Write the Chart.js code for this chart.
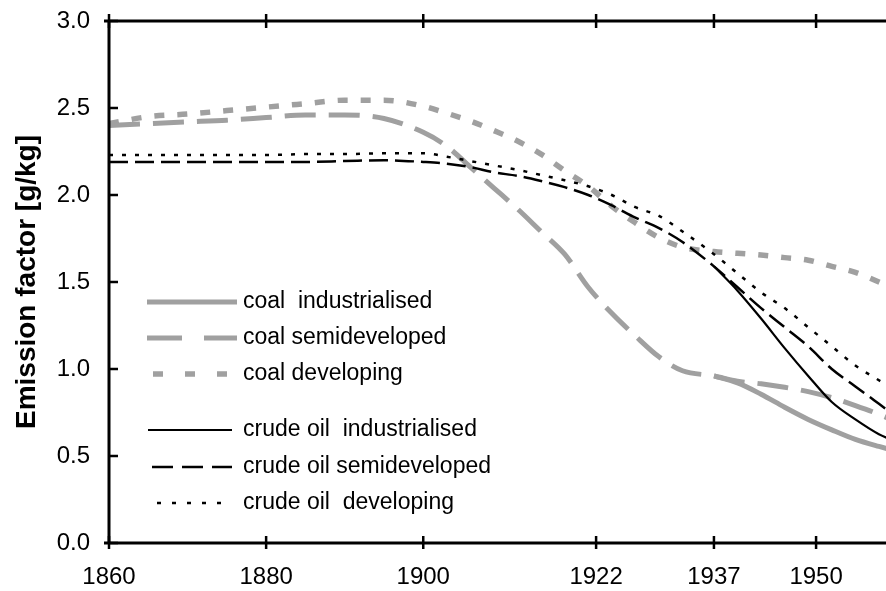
<!DOCTYPE html>
<html>
<head>
<meta charset="utf-8">
<script src="https://cdn.jsdelivr.net/npm/chart.js@4.4.1/dist/chart.umd.min.js"></script>
<style>
html,body{margin:0;padding:0;background:#ffffff;}
#c{display:block;}
</style>
</head>
<body>
<canvas id="c" width="886" height="591"></canvas>
<script>
// ---- data ----
const years = [1860,1865,1870,1875,1880,1885,1890,1895,1900,1903,1906,1909,1912,1915,1918,1921,1924,1927,1930,1933,1937,1940,1943,1946,1949,1952,1955,1958,1961];
const xTickYears = [1860,1880,1900,1922,1937,1950];
const yTickValues = [0,0.5,1,1.5,2,2.5,3];

const coalIndustrialised = [null,null,null,null,null,null,null,null,null,null,null,null,null,null,null,null,null,null,null,null,0.96,0.92,0.855,0.78,0.71,0.65,0.595,0.555,0.52];
const coalSemideveloped  = [2.40,2.41,2.42,2.43,2.445,2.46,2.46,2.44,2.36,2.28,2.16,2.04,1.92,1.79,1.66,1.47,1.32,1.19,1.07,0.99,0.96,0.93,0.915,0.895,0.87,0.835,0.79,0.74,0.68];
const coalDeveloping     = [2.41,2.45,2.465,2.485,2.505,2.525,2.545,2.545,2.51,2.47,2.425,2.37,2.31,2.235,2.14,2.05,1.935,1.84,1.755,1.70,1.675,1.665,1.655,1.64,1.625,1.59,1.555,1.50,1.44];
const oilIndustrialised  = [null,null,null,null,null,null,null,null,null,null,null,null,null,null,null,null,null,null,null,null,1.59,1.45,1.29,1.12,0.96,0.81,0.71,0.625,0.57];
const oilSemideveloped   = [2.19,2.19,2.19,2.19,2.19,2.19,2.195,2.20,2.19,2.18,2.16,2.13,2.11,2.08,2.045,2.00,1.94,1.87,1.81,1.73,1.59,1.47,1.35,1.24,1.13,1.00,0.90,0.80,0.70];
const oilDeveloping      = [2.23,2.23,2.23,2.23,2.23,2.235,2.235,2.24,2.24,2.22,2.195,2.17,2.145,2.115,2.085,2.05,2.00,1.93,1.88,1.79,1.66,1.55,1.44,1.35,1.24,1.13,1.02,0.935,0.85];

const seriesLabels = ['coal  industrialised','coal semideveloped','coal developing','crude oil  industrialised','crude oil semideveloped','crude oil  developing'];
const axisTitle = 'Emission factor [g/kg]';

// ---- styling ----
const GRAY = '#a0a0a0';
const FONT = "'Liberation Sans', Arial, sans-serif";
const toPts = arr => years.map((x,i) => ({x: x, y: arr[i]}));

const ds = (label, arr, color, width, dash, order) => ({
  label: label, data: toPts(arr), borderColor: color, backgroundColor: color,
  borderWidth: width, borderDash: dash, pointRadius: 0, pointHoverRadius: 0,
  cubicInterpolationMode: 'monotone', fill: false, spanGaps: false, order: order,
  borderCapStyle: 'butt'
});

const datasets = [
  ds(seriesLabels[0], coalIndustrialised, GRAY, 5, [], 2),
  ds(seriesLabels[1], coalSemideveloped, GRAY, 5, [31,13], 2),
  ds(seriesLabels[2], coalDeveloping, GRAY, 5.5, [10,13], 2),
  ds(seriesLabels[3], oilIndustrialised, '#000', 2.2, [], 1),
  ds(seriesLabels[4], oilSemideveloped, '#000', 2.5, [19,7], 1),
  ds(seriesLabels[5], oilDeveloping, '#000', 2.5, [4,9], 1)
];

// legend sample styles (layout only)
const legendLayout = {
  rowsY: [302, 338, 374, 430, 467, 503],
  samples: [
    {x0:147, x1:237, dash:[]},
    {x0:147, x1:237, dash:[35,22]},
    {x0:153, x1:230, dash:[10,22]},
    {x0:148, x1:232, dash:[]},
    {x0:152, x1:232, dash:[21,9]},
    {x0:157, x1:232, dash:[4,11]}
  ],
  textX: 243
};

const framePlugin = {
  id: 'frame',
  afterDatasetsDraw(chart) {
    const ctx = chart.ctx;
    const a = chart.chartArea;
    const xs = chart.scales.x, ys = chart.scales.y;
    ctx.save();
    ctx.strokeStyle = '#000';
    ctx.lineCap = 'butt';
    ctx.setLineDash([]);
    ctx.lineWidth = 3;
    ctx.beginPath();
    ctx.moveTo(a.left - 5, a.top); ctx.lineTo(a.right, a.top);
    ctx.moveTo(a.left - 5, a.bottom); ctx.lineTo(a.right, a.bottom);
    ctx.moveTo(a.left, a.top); ctx.lineTo(a.left, a.bottom);
    ctx.stroke();
    ctx.lineWidth = 2.5;
    ctx.beginPath();
    yTickValues.forEach(v => {
      const py = ys.getPixelForValue(v);
      ctx.moveTo(a.left, py); ctx.lineTo(a.left + 9, py);
    });
    xTickYears.forEach(v => {
      const px = xs.getPixelForValue(v);
      ctx.moveTo(px, a.bottom - 7); ctx.lineTo(px, a.bottom + 6);
      ctx.moveTo(px, a.top - 7); ctx.lineTo(px, a.top + 7);
    });
    ctx.stroke();

    // legend
    chart.data.datasets.forEach((d, i) => {
      const y = legendLayout.rowsY[i];
      const s = legendLayout.samples[i];
      ctx.strokeStyle = d.borderColor;
      ctx.lineWidth = d.borderWidth;
      ctx.setLineDash(s.dash);
      ctx.beginPath();
      ctx.moveTo(s.x0, y); ctx.lineTo(s.x1, y);
      ctx.stroke();
      ctx.setLineDash([]);
      ctx.fillStyle = '#000';
      ctx.font = '23px ' + FONT;
      ctx.textBaseline = 'middle';
      ctx.textAlign = 'left';
      ctx.fillText(d.label, legendLayout.textX, y);
    });
    ctx.restore();
  }
};

new Chart(document.getElementById('c'), {
  type: 'line',
  data: { datasets: datasets },
  plugins: [framePlugin],
  options: {
    responsive: false,
    animation: false,
    devicePixelRatio: 1,
    layout: { padding: { top: 21, right: 0, bottom: 0, left: 0 } },
    plugins: { legend: { display: false }, tooltip: { enabled: false } },
    scales: {
      x: {
        type: 'linear', min: 1860, max: 1958.9,
        afterBuildTicks: s => { s.ticks = xTickYears.map(v => ({value: v})); },
        afterFit: s => { s.height = 48; s.paddingLeft = 0; s.paddingRight = 0; },
        grid: { display: false, drawTicks: false },
        border: { display: false },
        ticks: {
          color: '#000', padding: 21,
          font: { family: FONT, size: 24, lineHeight: 1.1 },
          callback: v => String(v), maxRotation: 0, autoSkip: false
        }
      },
      y: {
        type: 'linear', min: 0, max: 3,
        afterBuildTicks: s => { s.ticks = yTickValues.map(v => ({value: v})); },
        afterFit: s => { s.width = 109; s.paddingTop = 0; s.paddingBottom = 0; },
        grid: { display: false, drawTicks: false },
        border: { display: false },
        ticks: {
          color: '#000', padding: 19,
          font: { family: FONT, size: 24 },
          callback: v => v.toFixed(1)
        },
        title: {
          display: true, text: axisTitle, color: '#000',
          font: { family: FONT, size: 28, weight: 'bold' },
          padding: { top: 10, bottom: 0 }
        }
      }
    }
  }
});
</script>
</body>
</html>
